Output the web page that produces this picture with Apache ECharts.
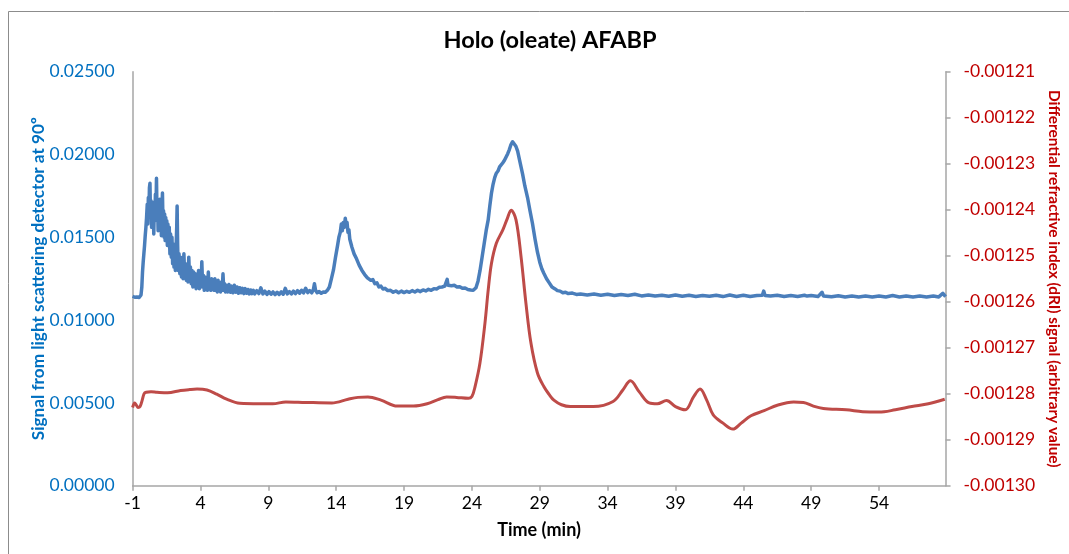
<!DOCTYPE html>
<html>
<head>
<meta charset="utf-8">
<script src="https://cdn.jsdelivr.net/npm/echarts@6/dist/echarts.min.js"></script>
<style>
html,body{margin:0;padding:0;background:#fff;}
#c{width:1069px;height:554px;}
</style>
</head>
<body>
<div id="c"></div>
<script>
const chartTitle = 'Holo (oleate) AFABP';
const xName = 'Time (min)';
const leftName = 'Signal from light scattering detector at 90º';
const rightName = 'Differential refractive index (dRI) signal (arbitrary value)';

// Light scattering signal [time (min), signal]
const lightScattering = [
[-1.00,0.01144],[-0.92,0.01150],[-0.84,0.01138],[-0.76,0.01148],[-0.68,0.01140],[-0.60,0.01146],[-0.52,0.01136],[-0.44,0.01144],[-0.38,0.01152],
[-0.32,0.01200],[-0.27,0.01290],[-0.22,0.01350],[-0.17,0.01400],[-0.12,0.01450],[-0.07,0.01510],[-0.02,0.01560],[0.03,0.01620],
[0.08,0.01700],[0.12,0.01580],[0.16,0.01740],[0.20,0.01640],[0.24,0.01800],[0.28,0.01826],[0.32,0.01620],[0.36,0.01720],[0.40,0.01560],[0.44,0.01680],[0.48,0.01590],[0.52,0.01710],[0.56,0.01520],[0.60,0.01690],[0.64,0.01600],[0.68,0.01760],[0.72,0.01650],[0.76,0.01857],[0.80,0.01640],[0.84,0.01700],[0.88,0.01540],[0.92,0.01690],[0.96,0.01610],[1.00,0.01730],[1.04,0.01560],[1.08,0.01680],[1.12,0.01510],[1.16,0.01660],[1.20,0.01768],[1.24,0.01580],[1.28,0.01660],[1.32,0.01500],[1.36,0.01640],[1.40,0.01480],[1.44,0.01620],[1.48,0.01520],[1.52,0.01600],[1.56,0.01450],[1.60,0.01580],[1.65,0.01460],[1.70,0.01560],[1.75,0.01400],[1.80,0.01520],[1.85,0.01380],[1.90,0.01500],[1.95,0.01340],[2.00,0.01460],[2.05,0.01320],[2.10,0.01440],[2.15,0.01300],[2.20,0.01420],[2.25,0.01560],[2.28,0.01689],[2.32,0.01450],[2.36,0.01300],[2.42,0.01400],[2.48,0.01280],[2.54,0.01380],[2.60,0.01260],[2.66,0.01360],[2.72,0.01250],[2.78,0.01400],[2.84,0.01260],[2.90,0.01340],[2.96,0.01240],[3.02,0.01330],[3.08,0.01230],[3.14,0.01380],[3.20,0.01240],[3.26,0.01320],[3.32,0.01220],[3.38,0.01300],[3.44,0.01200],[3.50,0.01290],[3.56,0.01210],[3.62,0.01280],[3.68,0.01190],[3.74,0.01270],[3.80,0.01200],[3.86,0.01300],[3.92,0.01190],[3.98,0.01260],[4.04,0.01200],[4.10,0.01353],[4.16,0.01200],[4.22,0.01270],[4.28,0.01180],[4.34,0.01260],[4.40,0.01190],[4.46,0.01250],[4.52,0.01180],[4.58,0.01290],[4.64,0.01190],[4.70,0.01240],[4.76,0.01180],[4.82,0.01250],[4.88,0.01190],[4.94,0.01230],[5.00,0.01180],[5.06,0.01250],[5.12,0.01180],[5.18,0.01230],[5.24,0.01170],[5.30,0.01240],[5.36,0.01180],[5.42,0.01220],[5.48,0.01170],[5.54,0.01230],[5.60,0.01180],[5.66,0.01280],[5.72,0.01180],[5.78,0.01220],[5.84,0.01170],[5.90,0.01210],
[6.0,0.01170],[6.1,0.01215],[6.2,0.01168],[6.3,0.01205],[6.4,0.01165],[6.5,0.01210],[6.6,0.01168],[6.7,0.01200],[6.8,0.01162],[6.9,0.01195],[7.0,0.01165],[7.1,0.01192],[7.2,0.01160],[7.3,0.01190],[7.4,0.01162],[7.5,0.01185],[7.6,0.01158],[7.7,0.01182],[7.8,0.01160],[7.9,0.01180],[8.0,0.01158],[8.15,0.01178],[8.3,0.01160],[8.45,0.01195],[8.6,0.01158],[8.75,0.01175],[8.9,0.01155],[9.05,0.01172],[9.2,0.01156],[9.35,0.01170],[9.5,0.01154],[9.65,0.01168],[9.8,0.01155],[9.95,0.01170],[10.1,0.01156],[10.25,0.01192],[10.4,0.01158],[10.55,0.01172],[10.7,0.01158],[10.85,0.01175],[11.0,0.01160],[11.15,0.01178],[11.3,0.01162],[11.45,0.01180],[11.6,0.01165],[11.75,0.01192],[11.9,0.01166],[12.05,0.01178],[12.2,0.01165],[12.32,0.01185],[12.4,0.01220],[12.48,0.01180],[12.6,0.01165],[12.75,0.01172],[12.9,0.01162],[13.05,0.01170],[13.2,0.01168],
[13.35,0.01180],[13.5,0.01200],[13.65,0.01250],[13.8,0.01303],[13.95,0.01380],[14.1,0.01450],[14.2,0.01500],[14.3,0.01530],[14.38,0.01580],[14.45,0.01540],[14.52,0.01590],[14.6,0.01560],[14.67,0.01615],[14.74,0.01570],[14.8,0.01590],[14.87,0.01530],[14.94,0.01545],[15.0,0.01490],[15.08,0.01500],[15.16,0.01440],[15.24,0.01450],[15.32,0.01400],[15.4,0.01410],[15.5,0.01370],[15.6,0.01375],[15.7,0.01330],[15.8,0.01340],[15.9,0.01300],[16.0,0.01310],[16.1,0.01275],[16.2,0.01285],[16.3,0.01255],[16.4,0.01265],[16.55,0.01240],[16.7,0.01245],[16.85,0.01220],[17.0,0.01225],[17.15,0.01200],[17.3,0.01205],[17.45,0.01188],[17.6,0.01192],[17.8,0.01178],[18.0,0.01180],[18.2,0.01168],[18.4,0.01176],[18.6,0.01165],[18.8,0.01175],[19.0,0.01166],[19.2,0.01174],[19.4,0.01168],[19.6,0.01178],[19.8,0.01170],[20.0,0.01180],[20.2,0.01172],[20.4,0.01182],[20.6,0.01176],[20.8,0.01186],[21.0,0.01180],[21.2,0.01190],[21.4,0.01188],[21.6,0.01198],[21.8,0.01200],[22.0,0.01205],[22.1,0.01210],[22.18,0.01246],[22.24,0.01210],[22.35,0.01215],[22.5,0.01208],[22.7,0.01210],[22.9,0.01200],[23.1,0.01202],[23.3,0.01192],[23.5,0.01194],[23.7,0.01185],[23.9,0.01182],[24.1,0.01180],[24.3,0.01195],[24.45,0.01235],[24.6,0.01300],[24.75,0.01380],[24.9,0.01460],[25.05,0.01540],[25.2,0.01605],[25.32,0.01690],[25.44,0.01766],[25.56,0.01820],[25.68,0.01860],[25.8,0.01887],[25.92,0.01900],[26.04,0.01925],[26.16,0.01935],[26.28,0.01950],[26.4,0.01965],[26.52,0.01985],[26.64,0.02005],[26.76,0.02030],[26.88,0.02060],[27.0,0.02077],[27.12,0.02070],[27.24,0.02050],[27.37,0.02020],[27.5,0.01970],[27.62,0.01925],[27.74,0.01880],[27.9,0.01810],[28.1,0.01740],[28.28,0.01660],[28.46,0.01585],[28.65,0.01490],[28.83,0.01410],[29.0,0.01350],[29.15,0.01310],[29.3,0.01283],[29.5,0.01250],[29.7,0.01225],[29.9,0.01200],[30.1,0.01190],[30.3,0.01178],[30.5,0.01175],[30.7,0.01165],[30.9,0.01168],[31.1,0.01160],[31.4,0.01163],[31.7,0.01155],[32.0,0.01158],
[32.5,0.01152],[33.0,0.01158],[33.5,0.01150],[34.0,0.01156],[34.5,0.01148],[35.0,0.01155],[35.5,0.01148],[36.0,0.01156],[36.5,0.01146],[37.0,0.01152],[37.5,0.01145],[38.0,0.01150],[38.5,0.01144],[39.0,0.01152],[39.5,0.01144],[40.0,0.01150],[40.5,0.01143],[41.0,0.01149],[41.5,0.01144],[42.0,0.01150],[42.5,0.01142],[43.0,0.01152],[43.5,0.01143],[44.0,0.01150],[44.5,0.01142],[45.0,0.01148],[45.4,0.01150],[45.5,0.01175],[45.6,0.01148],[46.0,0.01145],[46.5,0.01150],[47.0,0.01142],[47.5,0.01148],[48.0,0.01143],[48.5,0.01150],[48.6,0.01162],[48.7,0.01145],[49.0,0.01148],[49.5,0.01142],[49.8,0.01168],[49.9,0.01146],[50.0,0.01148],[50.5,0.01141],[51.0,0.01147],[51.5,0.01140],[52.0,0.01146],[52.5,0.01140],[53.0,0.01145],[53.5,0.01139],[54.0,0.01146],[54.5,0.01140],[55.0,0.01148],[55.5,0.01140],[56.0,0.01146],[56.5,0.01139],[57.0,0.01145],[57.5,0.01140],[58.0,0.01146],[58.4,0.01140],[58.7,0.01162],[58.9,0.01142]
];

// Differential refractive index signal [time (min), dRI]
const dri = [
[-1.0,-0.0012830],[-0.85,-0.0012820],[-0.7,-0.0012826],[-0.6,-0.0012830],[-0.45,-0.0012828],[-0.3,-0.0012815],[-0.15,-0.0012800],[0.0,-0.0012797],[0.36,-0.0012796],[0.8,-0.0012797],[1.57,-0.0012798],[2.54,-0.0012793],[3.2,-0.0012791],[3.75,-0.0012790],[4.48,-0.0012792],[5.2,-0.0012801],[5.93,-0.0012812],[6.9,-0.0012821],[8.35,-0.0012822],[9.32,-0.0012822],[10.29,-0.0012818],[11.74,-0.0012819],[13.68,-0.0012820],[14.88,-0.0012812],[15.6,-0.0012808],[16.34,-0.0012807],[17.3,-0.0012814],[18.5,-0.0012827],[19.7,-0.0012827],[20.7,-0.0012822],[21.5,-0.0012813],[22.14,-0.0012807],[22.87,-0.0012808],[23.74,-0.0012810],[24.0,-0.0012806],[24.23,-0.0012785],[24.59,-0.0012734],[24.96,-0.0012647],[25.2,-0.0012575],[25.44,-0.0012517],[25.8,-0.0012473],[26.28,-0.0012444],[26.6,-0.0012420],[26.89,-0.0012401],[27.25,-0.0012422],[27.62,-0.0012502],[27.98,-0.0012603],[28.35,-0.0012690],[28.83,-0.0012755],[29.31,-0.0012785],[29.7,-0.0012802],[30.04,-0.0012814],[30.6,-0.0012824],[31.25,-0.0012828],[32.94,-0.0012828],[34.4,-0.0012817],[35.12,-0.0012792],[35.68,-0.0012772],[36.33,-0.0012796],[37.06,-0.0012820],[37.66,-0.0012822],[38.34,-0.0012815],[39.0,-0.0012828],[39.72,-0.0012835],[40.33,-0.0012807],[40.81,-0.0012790],[41.3,-0.0012814],[41.78,-0.0012846],[42.5,-0.0012864],[43.23,-0.0012877],[43.84,-0.0012864],[44.56,-0.0012848],[45.53,-0.0012837],[46.5,-0.0012825],[47.71,-0.0012818],[48.43,-0.0012819],[49.16,-0.0012827],[49.89,-0.0012832],[51.58,-0.0012835],[52.79,-0.0012839],[54.0,-0.0012840],[55.2,-0.0012835],[56.42,-0.0012828],[57.63,-0.0012822],[58.84,-0.0012812]
];

const xMin = -1, xMax = 58.9, xStep = 5;
const leftMin = 0, leftMax = 0.025, leftStep = 0.005;
const rightMin = -0.0013, rightMax = -0.00121, rightStep = 0.00001;

const FONT = 'Lato, "Liberation Sans", sans-serif';
const AXIS_GREY = '#A6A6A6';
const BLUE_TXT = '#0070C0';
const RED_TXT = '#C00000';

const chart = echarts.init(document.getElementById('c'), null, {renderer: 'canvas'});
chart.setOption({
  animation: false,
  backgroundColor: '#fff',
  textStyle: {fontFamily: FONT},
  title: {
    text: chartTitle, left: 545, top: 23, textAlign: 'center',
    textStyle: {fontFamily: FONT, fontSize: 23.5, fontWeight: 'bold', color: '#000'}
  },
  graphic: [{
    type: 'rect', silent: true, z: -1,
    shape: {x: 8.5, y: 11.5, width: 1080, height: 600},
    style: {fill: 'none', stroke: '#8C8C8C', lineWidth: 1}
  }],
  grid: {left: 132.6, right: 111.7, top: 71.7, bottom: 68.3, containLabel: false},
  xAxis: {
    type: 'value', min: xMin, max: xMax, interval: xStep,
    name: xName, nameLocation: 'middle', nameGap: 35,
    nameTextStyle: {fontFamily: FONT, fontSize: 18, fontWeight: 'bold', color: '#000'},
    axisLine: {show: true, onZero: false, lineStyle: {color: AXIS_GREY, width: 1.5}},
    axisTick: {show: true, inside: false, length: 5, lineStyle: {color: AXIS_GREY, width: 1.5}},
    axisLabel: {showMaxLabel: false, margin: 9, fontFamily: FONT, fontSize: 17.5, color: '#000'},
    splitLine: {show: false}
  },
  yAxis: [{
    type: 'value', position: 'left', min: leftMin, max: leftMax, interval: leftStep,
    name: leftName, nameLocation: 'middle', nameGap: 86, nameRotate: 90, nameMoveOverlap: false,
    nameTextStyle: {fontFamily: FONT, fontSize: 17.2, fontWeight: 'bold', color: BLUE_TXT},
    axisLine: {show: true, onZero: false, lineStyle: {color: AXIS_GREY, width: 1.5}},
    axisTick: {show: false},
    axisLabel: {margin: 18, fontFamily: FONT, fontSize: 17.5, color: BLUE_TXT, formatter: v => v.toFixed(5)},
    splitLine: {show: false}
  }, {
    type: 'value', position: 'right', min: rightMin, max: rightMax, interval: rightStep,
    name: rightName, nameLocation: 'middle', nameGap: 98, nameRotate: -90,
    nameTextStyle: {fontFamily: FONT, fontSize: 15.4, fontWeight: 'bold', color: RED_TXT},
    axisLine: {show: true, onZero: false, lineStyle: {color: AXIS_GREY, width: 1.5}},
    axisTick: {show: true, inside: false, length: 5, lineStyle: {color: AXIS_GREY, width: 1.5}},
    axisLabel: {margin: 18, fontFamily: FONT, fontSize: 17.5, color: RED_TXT, formatter: v => v.toFixed(5)},
    splitLine: {show: false}
  }],
  series: [{
    name: 'Light scattering', type: 'line', yAxisIndex: 0, data: lightScattering,
    showSymbol: false, symbol: 'none', smooth: false,
    lineStyle: {color: '#4A7EBB', width: 3.5, join: 'round'}
  }, {
    name: 'dRI', type: 'line', yAxisIndex: 1, data: dri,
    showSymbol: false, symbol: 'none', smooth: 0.35,
    lineStyle: {color: '#BE4B48', width: 3}
  }]
});
</script>
</body>
</html>
